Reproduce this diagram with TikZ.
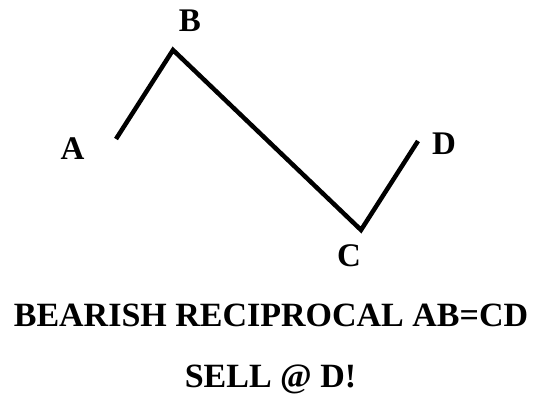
\documentclass[tikz,border=0pt]{standalone}
\usepackage{fontspec}
\setmainfont{Liberation Serif}
\usepackage{tikz}

\begin{document}
\begin{tikzpicture}[x=1pt,y=-1pt]
  \tikzset{ptlabel/.style={font=\fontsize{33}{36}\selectfont\bfseries,inner sep=0pt,anchor=base},
           caption/.style={font=\fontsize{34}{38}\selectfont\bfseries,inner sep=0pt,anchor=base}}
  \useasboundingbox (0,0) rectangle (536,395);
  \coordinate (pA) at (116,139);
  \coordinate (pB) at (173,50);
  \coordinate (pC) at (361,230);
  \coordinate (pD) at (418,141);
  \draw[line width=4.5pt,line join=miter] (pA) -- (pB) -- (pC) -- (pD);
  \node[ptlabel] (lA) at (72.5,160) {A};
  \node[ptlabel] (lB) at (190,32) {B};
  \node[ptlabel] (lC) at (349,267) {C};
  \node[ptlabel] (lD) at (444,155) {D};
  \node[caption] (title) at (271,327) {BEARISH RECIPROCAL AB=CD};
  \node[caption] (sell) at (270.5,388) {SELL @ D!};
\end{tikzpicture}
\end{document}
